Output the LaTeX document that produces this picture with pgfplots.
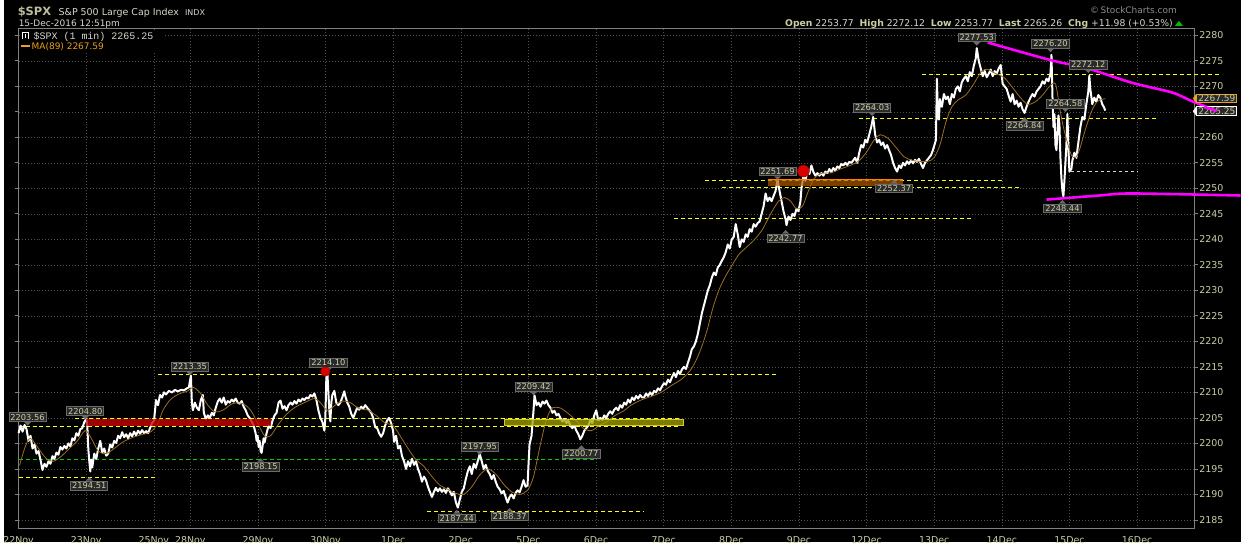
\documentclass[border=0pt]{standalone}
\usepackage{fontspec}
\setmainfont{DejaVu Sans}
\newfontfamily\monof{Liberation Mono}
\usepackage{pgfplots}
\pgfplotsset{compat=1.18}
\definecolor{khaki}{RGB}{205,205,165}
\definecolor{lgray}{RGB}{215,215,205}
\definecolor{gridc}{RGB}{78,78,78}
\definecolor{framec}{RGB}{128,128,128}
\definecolor{mac}{RGB}{155,110,35}
\definecolor{ylw}{RGB}{255,255,0}
\definecolor{mag}{RGB}{255,0,255}
\definecolor{labfill}{RGB}{42,42,42}
\definecolor{labdraw}{RGB}{105,105,105}
\definecolor{legor}{RGB}{235,160,30}
\definecolor{grn}{RGB}{0,210,0}
\definecolor{olive2}{RGB}{165,165,0}

\tikzset{lab/.style={draw=labdraw, fill=labfill, text=khaki, font=\fontsize{8.3}{9}\selectfont, inner xsep=1.5pt, inner ysep=1.3pt, line width=0.8pt},
 hl/.style={ylw, line width=0.9pt, dash pattern=on 4pt off 3pt}}
\newcommand{\hilab}[3]{\node[lab] (L) at (axis cs:#1,#2) {#3};
 \fill[labdraw] ([xshift=-3.5pt]L.south) -- ([xshift=3.5pt]L.south) -- ([yshift=-3.5pt]L.south) -- cycle;}
\newcommand{\lolab}[3]{\node[lab] (L) at (axis cs:#1,#2) {#3};
 \fill[labdraw] ([xshift=-3.5pt]L.north) -- ([xshift=3.5pt]L.north) -- ([yshift=3.5pt]L.north) -- cycle;}

\pgfplotstableread{
x y
15 2202.0
17 2203.5
19 2202.3
21 2203.6
23 2202.8
25 2200.5
27 2201.5
29 2199.0
31 2199.8
33 2198.0
35 2198.5
37 2196.8
39 2194.8
41 2196.0
43 2195.4
45 2196.5
47 2196.0
49 2197.5
51 2197.0
53 2198.2
55 2197.8
57 2199.3
59 2198.8
61 2199.5
63 2199.0
65 2200.0
67 2199.4
69 2201.0
71 2200.6
73 2202.0
75 2201.5
77 2202.8
79 2203.0
81 2204.2
83 2204.8
84 2203.5
85 2199.0
86 2196.5
87 2194.5
88 2196.8
89 2195.3
91 2198.0
93 2197.0
95 2199.0
97 2200.5
99 2198.2
101 2199.0
103 2197.6
105 2198.0
107 2199.8
109 2199.2
111 2200.5
113 2200.1
115 2201.5
117 2201.0
119 2202.2
121 2201.2
123 2201.8
125 2201.0
127 2202.0
129 2201.4
131 2202.3
133 2201.6
135 2202.5
137 2201.9
139 2202.6
141 2202.0
143 2202.4
145 2202.0
147 2203.0
149 2204.0
151 2204.5
152 2206.5
153 2208.5
155 2207.5
157 2209.5
159 2209.0
161 2210.0
163 2209.6
166 2210.3
169 2210.0
172 2210.5
175 2210.2
178 2210.5
181 2210.4
184 2210.8
186 2211.0
188 2213.3
189 2208.0
190 2206.5
192 2208.0
194 2207.0
196 2206.5
198 2208.5
200 2209.5
201 2206.0
203 2204.8
205 2205.5
207 2205.0
209 2206.0
211 2205.5
213 2207.0
215 2208.2
217 2208.8
219 2208.0
221 2209.0
223 2207.6
225 2208.3
227 2208.0
229 2208.6
231 2208.2
233 2208.8
235 2208.0
237 2207.8
239 2208.3
241 2207.2
243 2206.5
245 2205.5
247 2205.0
249 2204.3
251 2203.5
253 2202.0
254 2200.5
255 2201.5
256 2199.3
257 2200.5
258 2198.5
259 2198.15
260 2199.5
261 2201.0
262 2200.2
264 2202.0
266 2203.5
268 2203.0
270 2204.5
272 2205.5
274 2206.0
276 2208.0
278 2208.4
280 2206.8
282 2207.3
284 2206.5
286 2207.5
288 2208.0
290 2207.6
292 2208.3
294 2207.8
296 2208.6
298 2208.2
300 2208.8
302 2208.5
304 2209.0
306 2208.8
308 2209.5
310 2209.2
312 2209.8
314 2208.5
316 2206.5
318 2205.0
320 2204.2
322 2202.5
323 2205.0
324 2213.0
325 2214.1
326 2210.0
327 2206.5
328 2204.3
329 2208.0
330 2209.5
332 2210.3
334 2208.0
336 2207.5
338 2208.0
340 2209.0
342 2210.2
343 2209.3
345 2208.0
347 2207.2
349 2205.8
351 2205.0
353 2206.0
355 2207.0
357 2206.6
359 2207.2
361 2206.8
363 2207.5
365 2207.0
367 2206.5
369 2206.0
371 2205.0
373 2203.2
375 2203.0
377 2202.0
379 2201.3
381 2202.0
383 2203.5
385 2204.5
387 2205.0
389 2204.0
391 2202.5
392 2200.3
394 2201.5
396 2199.0
398 2199.5
400 2197.5
402 2196.5
404 2195.0
406 2196.5
408 2195.5
410 2197.0
412 2195.8
414 2196.5
416 2195.0
418 2194.0
420 2192.5
422 2193.5
424 2192.8
426 2191.5
428 2190.5
430 2189.5
432 2190.5
434 2191.3
436 2190.6
438 2191.2
440 2190.5
442 2191.0
444 2190.3
446 2191.2
448 2190.6
450 2189.8
452 2190.5
454 2188.5
456 2187.4
458 2189.0
460 2190.5
462 2191.2
464 2193.0
466 2194.5
468 2195.5
470 2194.0
472 2196.0
474 2195.2
476 2196.5
478 2197.95
480 2196.5
482 2195.0
484 2195.8
486 2194.6
488 2194.0
490 2193.0
492 2193.8
494 2192.5
496 2191.5
498 2191.0
500 2190.2
502 2190.7
504 2189.5
506 2188.4
508 2189.5
510 2190.0
512 2189.2
514 2190.3
516 2190.8
518 2190.4
520 2191.5
522 2192.8
524 2191.5
526 2191.8
527 2196.0
528 2199.8
530 2201.5
532 2206.5
533 2209.4
535 2207.5
537 2208.0
539 2207.2
541 2208.2
543 2207.8
545 2208.4
547 2207.5
549 2207.0
551 2206.0
553 2206.4
555 2205.5
557 2205.8
559 2205.0
561 2204.3
563 2204.8
565 2204.0
567 2204.4
569 2203.5
571 2203.0
573 2203.5
575 2202.5
577 2201.8
579 2200.8
581 2201.5
583 2202.5
585 2203.0
587 2203.5
589 2204.5
591 2204.0
593 2205.5
595 2206.5
597 2204.5
599 2205.0
601 2204.6
603 2205.5
605 2205.0
607 2205.8
609 2206.3
611 2205.8
613 2206.6
615 2207.0
617 2206.5
619 2207.5
621 2207.0
623 2208.0
625 2207.6
627 2208.6
629 2208.0
631 2209.0
633 2208.5
635 2209.3
637 2208.8
639 2209.5
641 2209.0
643 2209.0
645 2209.8
647 2209.3
649 2210.0
651 2209.5
653 2210.3
655 2210.0
657 2210.8
659 2210.4
661 2211.2
663 2211.8
665 2211.5
667 2212.5
669 2212.0
671 2213.0
673 2213.8
675 2213.0
677 2214.2
679 2213.6
681 2214.5
683 2215.0
685 2214.6
687 2215.8
689 2217.0
691 2218.5
693 2219.0
695 2220.0
697 2221.5
699 2223.5
701 2225.5
703 2227.0
705 2228.5
707 2230.0
709 2231.0
711 2232.5
713 2233.5
715 2233.0
717 2234.5
719 2235.0
721 2235.8
723 2236.5
725 2237.5
727 2239.0
729 2238.2
731 2240.0
733 2240.5
735 2243.0
737 2241.0
739 2238.5
741 2240.0
743 2239.5
745 2241.0
747 2240.5
749 2242.0
751 2241.5
753 2243.0
755 2242.5
757 2243.2
759 2243.5
761 2245.0
763 2246.5
765 2249.0
767 2247.5
769 2248.2
771 2247.5
773 2248.5
775 2249.5
777 2251.7
779 2249.5
781 2247.5
783 2245.5
785 2244.0
786 2242.8
788 2244.5
790 2243.8
792 2245.0
794 2244.6
796 2246.0
798 2245.5
800 2247.5
801 2250.0
803 2252.5
805 2251.5
807 2253.5
809 2252.8
811 2254.5
813 2253.2
815 2252.5
817 2253.0
819 2252.5
821 2253.0
823 2252.5
825 2253.3
827 2253.0
829 2253.8
831 2253.2
833 2254.0
835 2253.5
837 2254.3
839 2254.0
841 2254.8
843 2254.5
845 2255.0
847 2254.6
849 2255.2
851 2255.0
853 2255.5
855 2256.0
857 2255.0
859 2257.0
861 2258.5
863 2258.0
865 2259.5
867 2259.0
869 2260.5
871 2262.0
873 2264.0
875 2260.5
877 2259.0
879 2259.5
881 2258.5
883 2259.0
885 2257.8
887 2258.5
889 2257.5
891 2256.5
893 2255.0
895 2254.0
897 2253.3
899 2254.5
901 2254.0
903 2255.0
905 2254.5
907 2255.3
909 2254.8
911 2255.5
913 2254.9
915 2255.6
917 2255.2
919 2255.8
921 2254.8
923 2254.0
925 2255.0
927 2255.5
929 2256.0
931 2256.5
933 2257.5
936 2259.5
937 2271.5
938 2264.0
939 2263.5
940 2267.5
942 2266.0
944 2268.5
946 2267.5
948 2268.0
950 2266.5
952 2268.5
954 2267.8
956 2269.5
958 2270.0
960 2269.0
962 2270.8
964 2271.5
966 2272.0
968 2271.0
970 2272.8
972 2272.0
974 2274.0
976 2275.5
977 2277.5
979 2275.0
981 2273.5
983 2272.0
985 2273.0
987 2271.8
989 2272.5
991 2273.3
993 2272.0
995 2273.0
997 2272.5
999 2273.5
1001 2274.2
1003 2270.5
1005 2270.0
1007 2269.5
1009 2268.2
1011 2267.0
1013 2268.5
1015 2266.5
1017 2267.2
1019 2266.0
1021 2266.8
1023 2265.5
1025 2264.8
1027 2266.0
1029 2267.0
1031 2267.8
1033 2268.5
1035 2268.0
1037 2269.0
1039 2269.5
1041 2270.0
1043 2271.0
1045 2270.5
1047 2271.5
1049 2271.0
1051 2272.5
1052 2276.2
1053 2268.0
1054 2262.0
1055 2264.5
1056 2258.5
1057 2257.5
1058 2261.0
1059 2264.3
1060 2262.5
1061 2256.0
1062 2252.0
1063 2249.5
1064 2248.44
1065 2251.5
1066 2255.0
1067 2258.5
1068 2264.58
1069 2258.0
1070 2253.3
1072 2253.8
1073 2255.5
1075 2257.0
1077 2256.0
1079 2259.0
1081 2262.0
1083 2264.0
1085 2263.5
1087 2266.5
1089 2269.0
1090 2272.1
1091 2269.5
1093 2266.5
1095 2267.8
1097 2267.0
1099 2268.3
1101 2267.8
1103 2266.5
1105 2265.8
1106 2265.25
}\price

\pgfplotstableread{
x y
16 2195.7
22 2199.5
27 2201.0
35 2199.0
43 2197.0
50 2196.5
58 2197.5
66 2199.0
74 2200.5
82 2202.5
88 2201.0
95 2198.5
103 2198.0
111 2199.0
120 2200.3
130 2201.2
140 2201.8
148 2202.3
155 2204.0
160 2206.5
167 2208.5
175 2209.6
185 2210.3
190 2211.0
197 2210.0
205 2207.5
212 2206.2
220 2206.5
230 2207.8
240 2207.8
248 2206.5
255 2204.0
262 2201.5
268 2201.5
275 2203.5
283 2205.5
292 2207.0
302 2208.0
312 2208.8
318 2208.0
325 2206.5
333 2207.5
340 2208.3
348 2208.0
357 2206.8
366 2206.5
375 2205.3
383 2204.0
391 2203.5
398 2201.5
406 2199.0
414 2196.8
422 2195.5
430 2193.5
438 2191.8
446 2191.0
454 2190.2
462 2190.0
470 2191.5
478 2193.8
486 2195.0
494 2194.0
502 2192.0
510 2190.5
518 2190.0
526 2190.8
532 2193.5
538 2199.0
544 2204.0
550 2206.8
558 2207.0
566 2206.0
574 2204.6
582 2203.0
590 2202.5
598 2203.5
606 2204.3
614 2205.5
622 2206.3
630 2207.5
640 2208.5
650 2209.2
660 2210.0
670 2211.3
680 2212.5
688 2214.0
694 2215.8
700 2218.5
706 2222.0
712 2226.5
718 2230.0
724 2232.5
730 2234.5
738 2237.0
746 2238.5
754 2240.0
762 2242.0
770 2245.0
778 2247.5
784 2248.2
790 2247.5
796 2246.0
802 2246.5
808 2249.5
814 2252.0
822 2253.0
830 2253.0
840 2253.8
850 2254.5
858 2255.3
866 2257.0
874 2259.5
880 2260.5
888 2259.8
896 2258.0
904 2256.2
912 2255.5
920 2255.3
928 2255.3
934 2256.0
940 2258.5
946 2263.0
952 2266.0
958 2267.3
966 2268.3
974 2270.5
982 2273.0
988 2273.3
996 2272.5
1004 2271.8
1012 2270.0
1020 2268.0
1028 2266.5
1036 2267.0
1044 2268.5
1050 2270.0
1056 2270.5
1060 2266.0
1064 2262.0
1068 2259.0
1072 2256.5
1076 2256.0
1080 2257.5
1086 2261.5
1092 2265.0
1098 2267.0
1106 2267.6
}\ma

\begin{document}
\begin{tikzpicture}
\fill[black] (0,0) rectangle (1242pt,544pt);
\begin{axis}[
  at={(15pt,13pt)}, anchor=south west,
  scale only axis, width=1180pt, height=502pt,
  xmin=15, xmax=1195, ymin=2183.24, ymax=2281.27,
  clip=false,
  axis line style={draw=framec, line width=0.8pt},
  grid=major,
  major grid style={draw=gridc, line width=0.6pt, dash pattern=on 1pt off 2pt},
  xtick={15,82.9,150.8,187.4,255.3,323.2,391.1,459,526.9,594.8,662.7,730.6,798.5,866.4,934.3,1002.2,1070.1,1138},
  xticklabels={22Nov,23Nov,25Nov,28Nov,29Nov,30Nov,1Dec,2Dec,5Dec,6Dec,7Dec,8Dec,9Dec,12Dec,13Dec,14Dec,15Dec,16Dec},
  x tick style={draw=none},
  ytick={2185,2190,...,2280},
  yticklabels={2185,2190,2195,2200,2205,2210,2215,2220,2225,2230,2235,2240,2245,2250,2255,2260,{},2270,2275,2280},
  yticklabel pos=right,
  y tick style={draw=framec, line width=0.8pt},
  tick align=outside, major tick length=4pt,
  ticklabel style={text=khaki, font=\fontsize{9.5}{10}\selectfont},
  yticklabel style={xshift=-2pt},
]
% horizontal annotation lines
\addplot[hl] coordinates {(15,2203.4) (678,2203.4)};
\addplot[hl] coordinates {(72,2204.8) (680,2204.8)};
\addplot[hl] coordinates {(155,2213.6) (777,2213.6)};
\addplot[hl] coordinates {(15,2193.3) (155,2193.3)};
\addplot[grn, line width=0.9pt, dash pattern=on 4pt off 3pt] coordinates {(15,2196.8) (593,2196.8)};
\addplot[hl] coordinates {(425,2186.7) (643,2186.7)};
\addplot[hl] coordinates {(673,2244.2) (972,2244.2)};
\addplot[hl] coordinates {(704,2251.6) (1002,2251.6)};
\addplot[hl] coordinates {(721,2250.1) (1019,2250.1)};
\addplot[hl] coordinates {(859,2263.8) (1157,2263.8)};
\addplot[hl] coordinates {(922,2272.4) (1220,2272.4)};
\addplot[lgray, line width=0.8pt, dash pattern=on 3pt off 3pt] coordinates {(1072,2253.3) (1139,2253.3)};
% price and moving average
\addplot[white, line width=2pt, line join=round] table {\price};
\addplot[mac, line width=0.8pt, smooth] table {\ma};
% shaded zones
\fill[red!80!black, opacity=0.78] (axis cs:83,2204.8) rectangle (axis cs:268,2203.4);
\fill[olive2, opacity=0.75] (axis cs:503,2204.8) rectangle (axis cs:682,2203.6);
\draw[yellow!80!black, line width=0.6pt] (axis cs:503,2204.8) rectangle (axis cs:682,2203.6);
\fill[orange!70!black, opacity=0.7] (axis cs:767,2251.75) rectangle (axis cs:903,2250.45);
\addplot[orange, line width=0.6pt] coordinates {(767,2251.75) (903,2251.75)};
% alert dots
\addplot[only marks, mark=*, mark size=4.8pt, mark options={fill=red!85!black, draw=red!60!black}] coordinates {(323,2214.1)};
\addplot[only marks, mark=*, mark size=6pt, mark options={fill=red!85!black, draw=red!60!black}] coordinates {(803,2253.4)};
\node[text=white, font=\fontsize{5}{5}\selectfont] at (axis cs:803,2253.4) {1};
% magenta trend lines
\addplot[mag, line width=2.6pt, smooth] coordinates {(988,2278.6) (1052,2275.1) (1087,2273.6) (1133,2270.7) (1173,2268.8) (1193,2267.1) (1218,2265.2)};
\addplot[mag, line width=2.6pt, smooth] coordinates {(1047,2247.8) (1100,2248.6) (1133,2249.0) (1242,2248.6)};
% value labels
\hilab{24}{2205.14}{2203.56}
\hilab{82}{2206.31}{2204.80}
\lolab{86}{2191.75}{2194.51}
\hilab{187}{2215.0}{2213.35}
\lolab{258}{2195.46}{2198.15}
\hilab{326}{2215.79}{2214.10}
\hilab{478}{2199.37}{2197.95}
\hilab{532}{2211.10}{2209.42}
\lolab{580}{2198.0}{2200.77}
\lolab{455}{2185.3}{2187.44}
\lolab{508}{2185.69}{2188.37}
\hilab{777}{2253.32}{2251.69}
\lolab{785}{2240.22}{2242.77}
\lolab{894}{2250.0}{2252.37}
\hilab{872}{2265.83}{2264.03}
\hilab{977}{2279.6}{2277.53}
\hilab{1051}{2278.34}{2276.20}
\hilab{1089}{2274.23}{2272.12}
\lolab{1025}{2262.31}{2264.84}
\hilab{1066}{2266.61}{2264.58}
\lolab{1063}{2246.08}{2248.44}
% last-value tags
\node[draw=legor, fill=labfill, text=khaki, font=\fontsize{9}{9}\selectfont, inner xsep=1.5pt, inner ysep=1pt, line width=0.8pt] (T1) at (axis cs:1218,2267.65) {2267.59};
\fill[legor] (T1.north west) -- ([xshift=-3.5pt]T1.west) -- (T1.south west) -- cycle;
\node[draw=white, fill=labfill, text=khaki, font=\fontsize{9}{9}\selectfont, inner xsep=1.5pt, inner ysep=1pt, line width=0.8pt] (T2) at (axis cs:1218,2265.15) {2265.25};
\fill[white] (T2.north west) -- ([xshift=-3.5pt]T2.west) -- (T2.south west) -- cycle;
\addplot[mag, line width=2.6pt] coordinates {(1205,2266.0) (1218,2265.2)};
\end{axis}
% title block
\node[anchor=base west, inner sep=0, text=khaki!80!gray, font=\bfseries\fontsize{11.5}{12}\selectfont] at (14pt,528.5pt) {\$SPX};
\node[anchor=base west, inner sep=0, text=lgray, font=\fontsize{9.5}{10}\selectfont] at (55pt,528.5pt) {S\&P 500 Large Cap Index};
\node[anchor=base west, inner sep=0, text=lgray, font=\fontsize{8}{8}\selectfont] at (182pt,528.5pt) {INDX};
\node[anchor=base west, inner sep=0, text=lgray, font=\fontsize{9}{9}\selectfont] at (15pt,517.5pt) {15-Dec-2016 12:51pm};
% legend
\fill[black] (16pt,492pt) rectangle (160pt,514pt);
\fill[white] (18pt,505pt) rectangle (19.5pt,511pt);
\fill[white] (21pt,506pt) rectangle (22.5pt,510pt);
\fill[white] (24pt,505pt) rectangle (25.5pt,511pt);
\draw[white, line width=0.8pt] (18pt,511pt) -- (25.5pt,511pt);
\node[anchor=base west, inner sep=0, text=lgray, font=\monof\fontsize{10}{10}\selectfont] at (30pt,504.5pt) {\$SPX (1 min) 2265.25};
\draw[legor, line width=1.6pt] (17pt,498pt) -- (26pt,498pt);
\node[anchor=base west, inner sep=0, text=legor, font=\fontsize{9}{9}\selectfont] at (28pt,494pt) {MA(89) 2267.59};
% top right
\node[anchor=base east, inner sep=0, text=gray!90!white, font=\fontsize{9}{9}\selectfont] at (1178pt,530pt) {\textcopyright\,StockCharts.com};
\node[anchor=base east, inner sep=0, text=lgray, font=\fontsize{9.3}{9}\selectfont] at (1174pt,517pt) {\textcolor{khaki}{\bfseries Open} 2253.77\ \ \textcolor{khaki}{\bfseries High} 2272.12\ \ \textcolor{khaki}{\bfseries Low} 2253.77\ \ \textcolor{khaki}{\bfseries Last} 2265.26\ \ \textcolor{khaki}{\bfseries Chg} +11.98 (+0.53\%)};
\fill[green!75!black] (1176pt,518pt) -- (1184pt,518pt) -- (1180pt,523pt) -- cycle;
\end{tikzpicture}
\end{document}
